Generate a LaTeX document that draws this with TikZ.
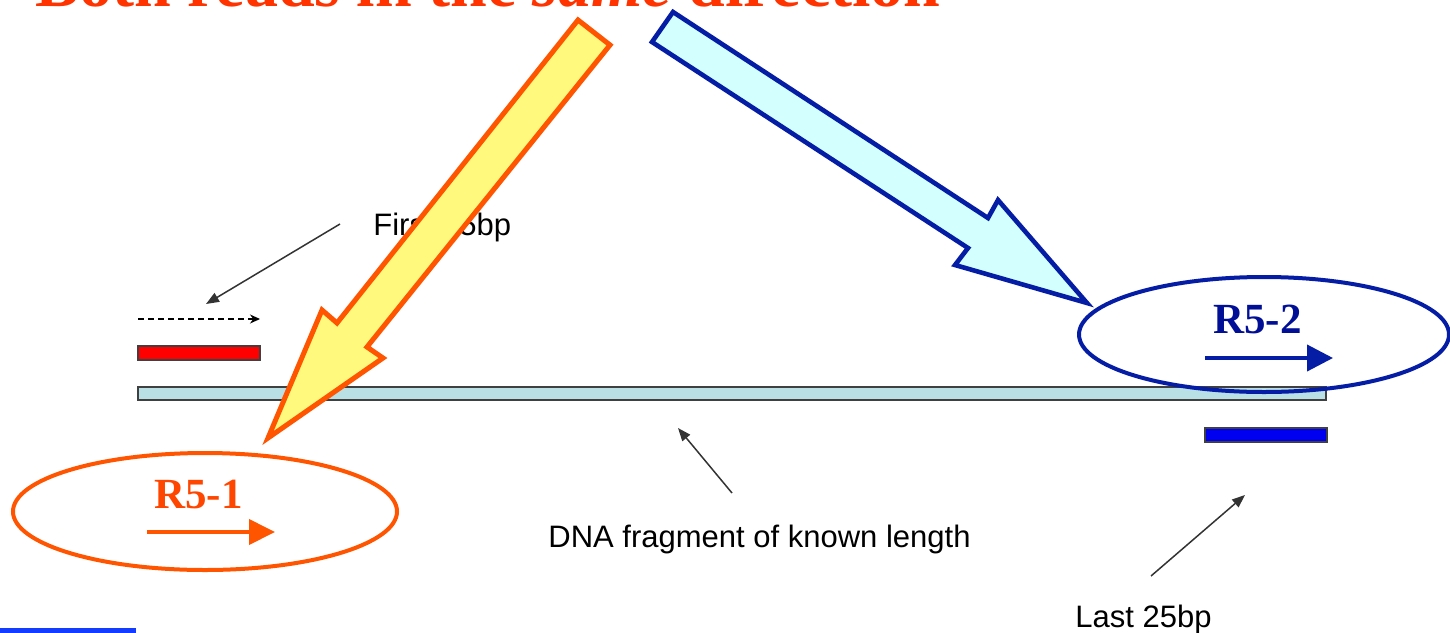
\documentclass[tikz,border=0pt]{standalone}
\usepackage{fontspec}
\setmainfont{Liberation Serif}
\newfontfamily\arialfont{Liberation Sans}
\usetikzlibrary{arrows.meta,shapes.geometric}
\definecolor{titlered}{RGB}{255,51,0}
\definecolor{rorange}{RGB}{255,70,0}
\definecolor{ostroke}{RGB}{255,85,0}
\definecolor{yfill}{RGB}{255,250,125}
\definecolor{cfill}{RGB}{212,255,255}
\definecolor{dblue}{RGB}{5,28,165}
\definecolor{rtwo}{RGB}{0,15,150}
\definecolor{dnafill}{RGB}{185,224,228}
\definecolor{barblue}{RGB}{0,0,240}
\definecolor{lineblue}{RGB}{20,60,255}
\tikzset{
  barbox/.style={draw=black!75, line width=0.6pt, inner sep=0pt},
  lbl/.style={font=\arialfont\fontsize{15.5}{15.5}\selectfont, inner sep=0pt, anchor=base west},
  pointer/.style={draw=black!80, line width=0.75pt, -{Triangle[length=6.5pt,width=5pt]}},
  readlbl/.style={font=\fontsize{21.5}{21.5}\selectfont\bfseries, inner sep=0pt, anchor=base west},
  readellipse/.style={ellipse, inner sep=0pt, line width=2pt},
  blockarrow/.style={line width=2.5pt, line join=miter, miter limit=10}
}
\begin{document}
\begin{tikzpicture}[x=0.5pt,y=-0.5pt]
\useasboundingbox (0,0) rectangle (1450,632);
\clip (0,0) rectangle (1450,632);

% title (cut at top)
\node[anchor=base west, inner sep=0pt, text=titlered, font=\fontsize{33}{33}\selectfont\bfseries] (title) at (35,6) {Both reads in the \textit{same} direction};

% DNA bar and read bars
\node[barbox, fill=dnafill, minimum width=594pt, minimum height=6.5pt] (dna) at (732,393.5) {};
\node[barbox, fill=red, minimum width=61pt, minimum height=7pt] (redbar) at (199,353) {};
\node[barbox, fill=barblue, minimum width=61pt, minimum height=7pt] (bluebar) at (1266,435) {};

% dashed read arrow
\coordinate (dashA) at (138,319);
\coordinate (dashB) at (260,319);
\draw[black, line width=0.6pt, dash pattern=on 3pt off 2pt, -{Stealth[length=5pt,width=4.5pt]}] (dashA) -- (dashB);

% labels
\node[lbl] (first) at (373,235) {First 25bp};
\node[lbl] (dnalbl) at (548,547) {DNA fragment of known length};
\node[lbl] (last) at (1075,627) {Last 25bp};

% pointers
\coordinate (p1s) at (340,224); \coordinate (p1e) at (206,304);
\coordinate (p2s) at (732,493); \coordinate (p2e) at (678,428);
\coordinate (p3s) at (1151,576); \coordinate (p3e) at (1245,495);
\draw[pointer] (p1s) -- (p1e);
\draw[pointer] (p2s) -- (p2e);
\draw[pointer] (p3s) -- (p3e);

% big block arrows
\draw[blockarrow, draw=ostroke, fill=yfill]
  (578,20) -- (610,45) -- (367,347) -- (383,358) -- (268,438) -- (322,310) -- (337,323) -- cycle;
\draw[blockarrow, line width=2.3pt, draw=dblue, fill=cfill]
  (673,12) -- (652,42) -- (968,248) -- (955,265) -- (1087,303) -- (998,200) -- (988,218) -- cycle;

% read ellipses
\node[readellipse, draw=dblue, minimum width=185pt, minimum height=57.5pt] (e2) at (1264,334.5) {};
\node[readellipse, draw=ostroke, minimum width=192pt, minimum height=58.5pt] (e1) at (205,511.5) {};

\node[readlbl, text=rtwo] (r52) at (1213,333) {R5-2};
\node[readlbl, text=rorange] (r51) at (154,508) {R5-1};

\coordinate (a2s) at (1205,358); \coordinate (a2e) at (1333,358);
\coordinate (a1s) at (147,532); \coordinate (a1e) at (275,532);
\draw[dblue, line width=2pt, -{Triangle[length=13pt,width=13pt]}] (a2s) -- (a2e);
\draw[ostroke, line width=2pt, -{Triangle[length=13pt,width=12.5pt]}] (a1s) -- (a1e);

% blue line at bottom left
\fill[lineblue] (0,628) rectangle (136,633);
\end{tikzpicture}
\end{document}
